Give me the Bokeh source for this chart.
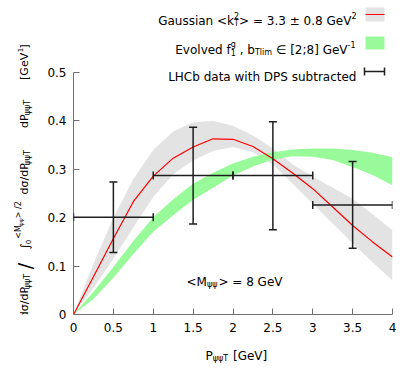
import math
from bokeh.plotting import figure
from bokeh.layouts import row, column
from bokeh.models import (Range1d, Label, Whisker, TeeHead, ColumnDataSource,
                          FixedTicker, CustomJSTickFormatter)
from bokeh.embed import file_html
from bokeh.resources import INLINE

# ---------------- data ----------------
pt = [0, 0.25, 0.5, 0.75, 1.0, 1.25, 1.5, 1.75, 2.0, 2.25, 2.5, 2.75, 3.0, 3.25, 3.5, 3.75, 4.0]
gauss_central = [0, 0.078, 0.157, 0.233, 0.286, 0.323, 0.346, 0.363, 0.362, 0.347, 0.322, 0.292, 0.26, 0.222, 0.184, 0.15, 0.119]
gauss_upper = [0, 0.105, 0.20, 0.28, 0.34, 0.378, 0.397, 0.40, 0.39, 0.37, 0.343, 0.31, 0.285, 0.262, 0.239, 0.207, 0.174]
gauss_lower = [0, 0.055, 0.115, 0.18, 0.243, 0.29, 0.318, 0.338, 0.346, 0.335, 0.31, 0.27, 0.229, 0.188, 0.147, 0.108, 0.07]
evol_upper = [0, 0.047, 0.098, 0.152, 0.201, 0.238, 0.27, 0.293, 0.312, 0.326, 0.335, 0.341, 0.343, 0.343, 0.34, 0.334, 0.325]
evol_lower = [0, 0.032, 0.076, 0.125, 0.171, 0.205, 0.237, 0.262, 0.287, 0.306, 0.32, 0.327, 0.326, 0.319, 0.305, 0.288, 0.267]

data_x = [0.5, 1.5, 2.5, 3.5]
data_xlo = [0.0, 1.0, 2.0, 3.0]
data_xhi = [1.0, 2.0, 3.0, 4.0]
data_y = [0.201, 0.287, 0.287, 0.226]
data_ylo = [0.128, 0.187, 0.175, 0.137]
data_yhi = [0.274, 0.387, 0.398, 0.316]

x_ticks = [0, 0.5, 1, 1.5, 2, 2.5, 3, 3.5, 4]
y_ticks = [0, 0.1, 0.2, 0.3, 0.4, 0.5]

# ---------------- layout (window pixels) ----------------
LEFT_W = 35                 # strip holding the y title
MAIN_W, MAIN_H = 365, 340
BOT_H = 30                  # strip holding the x title
F_LEFT, F_RIGHT, F_TOP, F_BOT = 73, 392, 0, 314   # main frame in window px
XMIN, XMAX = 0.0, 4.0
YMIN = 0.0
PXY = (314 - 72) / 0.5
PXX = (F_RIGHT - F_LEFT) / (XMAX - XMIN)
YMAX = YMIN + (F_BOT - F_TOP) / PXY

def X(px):
    return XMIN + (px - F_LEFT) / PXX

def Y(py):
    return YMIN + (F_BOT - py) / PXY

FONT = "DejaVu Sans"
GRAY = "#e3e3e3"
GREEN = "#99fa99"
RED = "#ff0000"
BAR = "#1e1e1e"

p = figure(width=MAIN_W, height=MAIN_H, output_backend="svg", toolbar_location=None,
           x_range=Range1d(XMIN, XMAX), y_range=Range1d(YMIN, YMAX),
           min_border_left=F_LEFT - LEFT_W, min_border_right=LEFT_W + MAIN_W - F_RIGHT,
           min_border_top=F_TOP, min_border_bottom=MAIN_H - F_BOT, title=None)
p.outline_line_color = None
p.grid.visible = False

for ax, ticks in ((p.xaxis[0], x_ticks), (p.yaxis[0], y_ticks)):
    ax.ticker = FixedTicker(ticks=ticks)
    ax.formatter = CustomJSTickFormatter(code="return String(Math.round(tick*10)/10);")
    ax.axis_line_color = "#707070"
    ax.major_tick_line_color = "#707070"
    ax.major_tick_in = 6
    ax.major_tick_out = 0
    ax.minor_tick_line_color = None
    ax.major_label_text_font = FONT
    ax.major_label_text_font_size = "12px"
    ax.major_label_text_color = "black"
p.xaxis.bounds = (XMIN, XMAX)
p.yaxis.bounds = (0, 0.5)
p.xaxis.major_label_standoff = 8
p.yaxis.major_label_standoff = 7

# bands and curve
p.varea(x=pt, y1=gauss_lower, y2=gauss_upper, fill_color=GRAY)
p.varea(x=pt, y1=evol_lower, y2=evol_upper, fill_color=GREEN)
p.line(pt, gauss_central, line_color=RED, line_width=1.2)

# data with error bars
src = ColumnDataSource(dict(x=data_x, y=data_y, ylo=data_ylo, yhi=data_yhi,
                            xlo=data_xlo, xhi=data_xhi))
for dim, base, lo, hi in (("height", "x", "ylo", "yhi"), ("width", "y", "xlo", "xhi")):
    w = Whisker(source=src, base=base, lower=lo, upper=hi, dimension=dim,
                line_color=BAR, line_width=1.5, level="annotation",
                upper_head=TeeHead(size=8, line_color=BAR, line_width=1.5),
                lower_head=TeeHead(size=8, line_color=BAR, line_width=1.5))
    p.add_layout(w)

# side strips for the axis titles
left = figure(width=LEFT_W, height=MAIN_H, output_backend="svg", toolbar_location=None,
              x_range=Range1d(0, LEFT_W), y_range=Range1d(MAIN_H, 0),
              x_axis_type=None, y_axis_type=None, min_border=0, title=None)
bottom = figure(width=LEFT_W + MAIN_W, height=BOT_H, output_backend="svg", toolbar_location=None,
                x_range=Range1d(0, LEFT_W + MAIN_W), y_range=Range1d(MAIN_H + BOT_H, MAIN_H),
                x_axis_type=None, y_axis_type=None, min_border=0, title=None)
for f in (left, bottom):
    f.outline_line_color = None
    f.grid.visible = False

# ---------------- rich text helpers ----------------
EM = {' ': .318, '!': .4, '<': .838, '>': .838, '=': .838, '.': .318, ',': .318, ';': .337,
      '[': .39, ']': .39, '/': .337, '±': .838, '∈': .871, '-': .361, '∫': .45,
      '0': .636, '1': .636, '2': .636, '3': .636, '4': .636, '5': .636, '6': .636, '7': .636,
      '8': .636, '9': .636, 'A': .684, 'B': .686, 'C': .698, 'D': .77, 'E': .632, 'F': .575,
      'G': .775, 'H': .752, 'I': .295, 'L': .557, 'M': .863, 'P': .603, 'S': .635, 'T': .611,
      'V': .684, 'a': .613, 'b': .635, 'c': .55, 'd': .635, 'e': .615, 'f': .352, 'g': .635,
      'h': .634, 'i': .278, 'k': .579, 'l': .278, 'm': .974, 'n': .634, 'o': .612, 'r': .411,
      's': .521, 't': .392, 'u': .634, 'v': .592, 'w': .818, 'ψ': .72, 'σ': .64}

def tw(text, size):
    return sum(EM.get(c, .6) for c in text) * size

def seg_width(s):
    if s[0] == 'stack':
        return max(tw(s[1], s[3]), tw(s[2], s[3]))
    return tw(s[0], s[1])

def put(fig, text, x, y, size, angle=0.0, vertical=False):
    stripped = text.lstrip(" ")
    lead = tw(text[:len(text) - len(stripped)], size)
    if vertical:
        y = y - lead
    else:
        x = x + lead
    if fig is p:
        x, y = X(x), Y(y)
    fig.add_layout(Label(x=x, y=y, text=stripped, text_font=FONT,
                         text_font_size=f"{size}px", text_color="black",
                         text_align="left", text_baseline="alphabetic", angle=angle))

def hrich(fig, x, base, segs, align="left"):
    total = sum(seg_width(s) for s in segs)
    cx = x if align == "left" else x - total
    for s in segs:
        if s[0] == 'stack':
            _, sub, sup, size = s
            put(fig, sub, cx, base + 3, size)
            put(fig, sup, cx, base - 5, size)
        else:
            text, size, rise = s
            put(fig, text, cx, base - rise, size)
        cx += seg_width(s)

def vrich(fig, xbase, y0, segs):
    cy = y0
    for s in segs:
        if len(s) == 1:
            cy = s[0]
            continue
        text, size, rise = s
        put(fig, text, xbase - rise, cy, size, angle=math.pi / 2, vertical=True)
        cy -= tw(text, size)

# ---------------- axis titles ----------------
hrich(bottom, 205, 355, [("P", 12, 0), ("ψψT", 8, -3), (" [GeV]", 12, 0)])

vrich(left, 24, 344, [
    ("dσ/dP", 11, 0), ("ψψT", 8, -3),
    (291.0,), ("/", 19, 0),
    (270.0,), ("∫", 12, 0), (264.0,), ("0", 7, -3),
    (258.0,), ("<M", 8, 6), ("ψψ", 6, 4), ("> /2", 8, 6),
    (210.0,), ("dσ/dP", 11, 0), ("ψψT", 8, -3),
    (138.0,), ("dP", 11, 0), ("ψψT", 8, -3),
    (86.0,), ("[GeV", 11, 0), ("-1", 7, 5), ("]", 11, 0),
])

# in-plot annotation
hrich(p, 186, 281, [("<M", 12, 0), ("ψψ", 8, -3), ("> = 8 GeV", 12, 0)])

# ---------------- legend ----------------
hrich(p, 356, 20, [("Gaussian <k", 12, 0), ('stack', "T", "2", 8),
                   ("> = 3.3 ± 0.8 GeV", 12, 0), ("2", 8, 5)], align="right")
hrich(p, 355, 49, [("Evolved f", 12, 0), ('stack', "1", "g", 8), (" , b", 12, 0),
                   ("Tlim", 8, -3), (" ∈ [2;8] GeV", 12, 0), ("-1", 8, 5)], align="right")
hrich(p, 356, 76, [("LHCb data with DPS subtracted", 12, 0)], align="right")

p.quad(left=[X(365)], right=[X(384)], top=[Y(7)], bottom=[Y(21)], fill_color=GRAY, line_color=None)
p.line([X(365), X(384)], [Y(14), Y(14)], line_color=RED, line_width=1.2)
p.quad(left=[X(365)], right=[X(384)], top=[Y(36)], bottom=[Y(49)], fill_color=GREEN, line_color=None)
p.line([X(364), X(384)], [Y(71), Y(71)], line_color=BAR, line_width=1.5)
p.segment(x0=[X(364), X(384)], y0=[Y(67), Y(67)], x1=[X(364), X(384)], y1=[Y(75), Y(75)],
          line_color=BAR, line_width=1.5)

layout = column(row(left, p, spacing=0), bottom, spacing=0)
open("out.html", "w").write(file_html(layout, INLINE))
